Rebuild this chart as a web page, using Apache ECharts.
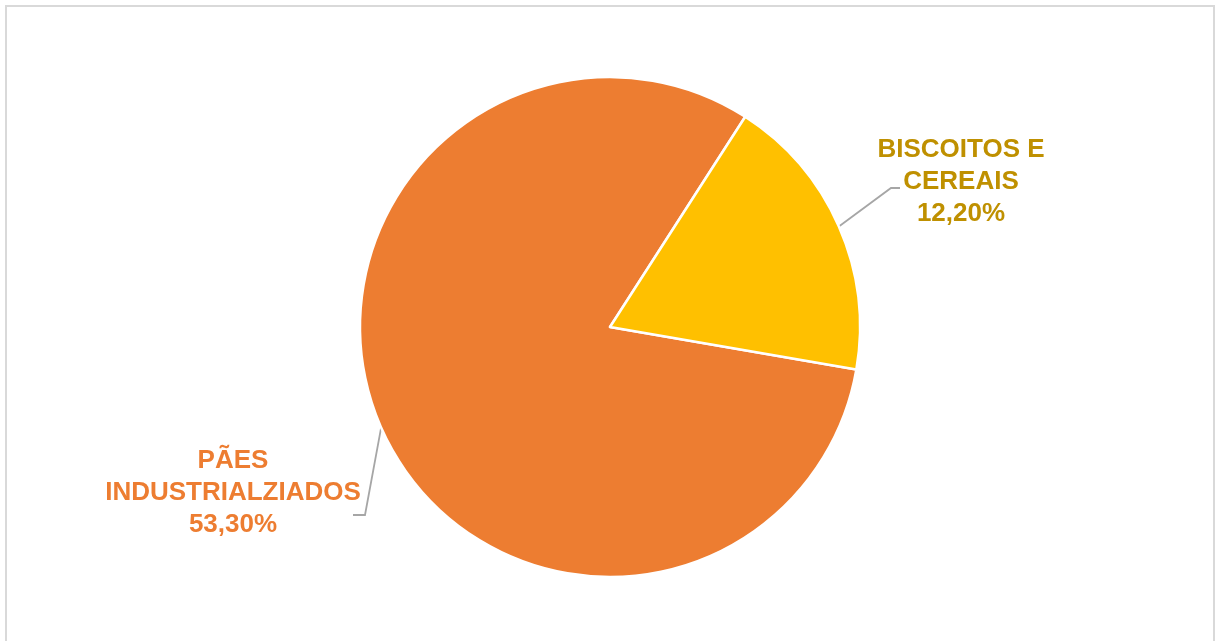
<!DOCTYPE html>
<html>
<head>
<meta charset="utf-8">
<script src="https://cdn.jsdelivr.net/npm/echarts@6/dist/echarts.min.js"></script>
<style>
html,body{margin:0;padding:0;background:#fff;}
#chart{width:1216px;height:641px;}
</style>
</head>
<body>
<div id="chart"></div>
<script>
const categories = ['PÃES\nINDUSTRIALZIADOS', 'BISCOITOS E\nCEREAIS'];
const values = [53.3, 12.2];
const colors = ['#ED7D31', '#FFC000'];
const labelColors = ['#ED7D31', '#BF9000'];

const chart = echarts.init(document.getElementById('chart'));
const data = categories.map((c, i) => ({
  name: c,
  value: values[i],
  itemStyle: { color: colors[i] },
  label: { color: labelColors[i] }
}));

chart.setOption({
  backgroundColor: '#fff',
  animation: false,
  graphic: [{
    type: 'rect',
    shape: { x: 6, y: 6, width: 1208, height: 660 },
    style: { fill: 'none', stroke: '#d9d9d9', lineWidth: 2 },
    silent: true
  }],
  series: [{
    type: 'pie',
    center: [610, 327],
    radius: 250,
    startAngle: -9.8,
    clockwise: true,
    data: data,
    itemStyle: { borderColor: '#fff', borderWidth: 2.5 },
    label: {
      show: true,
      position: 'outside',
      fontFamily: 'Liberation Sans, Arial, sans-serif',
      fontWeight: 'bold',
      fontSize: 26,
      lineHeight: 32,
      align: 'center',
      formatter: p => p.name + '\n' + p.value.toFixed(2).replace('.', ',') + '%'
    },
    labelLine: { show: true, lineStyle: { color: '#a6a6a6', width: 1.8 } },
    labelLayout: function (p) {
      const p0 = p.labelLinePoints ? p.labelLinePoints[0] : null;
      if (p.dataIndex === 1) {
        return {
          x: 961, y: 182, align: 'center', verticalAlign: 'middle',
          labelLinePoints: p0 ? [p0, [891, 188], [900, 188]] : undefined
        };
      }
      return {
        x: 233, y: 493, align: 'center', verticalAlign: 'middle',
        labelLinePoints: p0 ? [p0, [365, 515], [353, 515]] : undefined
      };
    }
  }]
});
</script>
</body>
</html>
